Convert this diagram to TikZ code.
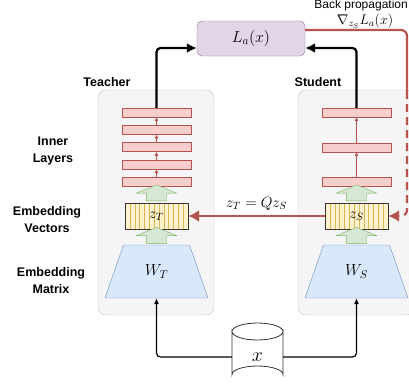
\RequirePackage{fix-cm}
\documentclass[tikz,border=0pt]{standalone}
\usepackage{fontspec}
\newfontfamily\labelfont{Liberation Sans}
\usepackage{amsmath}
\usepackage{tikz}
\usetikzlibrary{calc,positioning,arrows.meta,shapes.geometric,shapes.arrows}
\definecolor{BoxGray}{HTML}{F5F5F5}
\definecolor{LayerRed}{HTML}{F8CECC}
\definecolor{LayerEdge}{HTML}{B85450}
\definecolor{EmbGreen}{HTML}{D5E8D4}
\definecolor{EmbGreenEdge}{HTML}{82B366}
\definecolor{VecYellow}{HTML}{FFF2CC}
\definecolor{VecHatch}{HTML}{D6B656}
\definecolor{MatBlue}{HTML}{DAE8FC}
\definecolor{MatBlueEdge}{HTML}{6C8EBF}
\definecolor{LossPurple}{HTML}{E1D5E7}
\definecolor{LossEdge}{HTML}{9673A6}
\newcommand\sidefont{\labelfont\bfseries\fontsize{12.5}{17}\selectfont}
\tikzset{
  netbox/.style={draw=gray!50, fill=BoxGray, rounded corners=8pt, minimum width=116pt, minimum height=225pt},
  layer/.style={draw=LayerEdge, fill=LayerRed, minimum width=69pt, minimum height=9pt, inner sep=0pt},
  uparrow/.style={single arrow, draw=EmbGreenEdge, fill=EmbGreen, rotate=90, minimum height=16pt,
    inner xsep=0pt, inner ysep=10pt, single arrow head extend=10pt, single arrow tip angle=136},
  vecbox/.style={draw=black!80, fill=VecYellow, minimum width=63pt, minimum height=26pt, inner sep=0pt,
    font=\fontsize{15}{17}\selectfont,
    path picture={\foreach \k in {1,...,12}
      \draw[VecHatch, line width=0.4pt] ([xshift=\k*4.85pt]path picture bounding box.south west)
        -- ([xshift=\k*4.85pt]path picture bounding box.north west);}},
  matshape/.style={draw=MatBlueEdge, fill=MatBlue, line join=round},
  matlabel/.style={minimum width=103pt, minimum height=53pt, inner sep=0pt, font=\fontsize{16}{18}\selectfont},
  sidelabel/.style={align=center, font=\sidefont},
  flow/.style={-{Latex[length=10pt,width=10pt]}, line width=2.2pt, rounded corners=4pt},
  feed/.style={-{Latex[length=6pt,width=5pt]}, line width=1.2pt, rounded corners=4pt},
  inner/.style={-{Latex[length=4pt,width=4pt]}, draw=LayerEdge, line width=0.7pt},
  redline/.style={draw=LayerEdge, line width=2.2pt},
  drum/.style={draw=black!80, fill=white, line width=0.8pt},
}

\begin{document}
\begin{tikzpicture}[x=1pt,y=-1pt]
  \useasboundingbox (0,0) rectangle (409,389);
  % teacher and student frames
  \node[netbox] (teacher) at (156,202.5) {};
  \node[netbox] (student) at (356,202.5) {};
  \node[font=\sidefont] (tlabel) at (107,82) {Teacher};
  \node[font=\sidefont] (slabel) at (318,82) {Student};
  % row labels
  \node[sidelabel] (innerlab) at (53,151) {Inner\\Layers};
  \node[sidelabel] (veclab) at (47,220) {Embedding\\Vectors};
  \node[sidelabel] (matlab) at (51,281) {Embedding\\Matrix};
  % inner layers
  \foreach \i in {1,...,5}
    \node[layer] (t\i) at (156.5,{181.7-17.3*(\i-1)}) {};
  \foreach \i in {1,...,4} {
    \pgfmathtruncatemacro\j{\i+1}
    \draw[inner] (t\i.north) -- (t\j.south);
  }
  \foreach \i in {1,...,3}
    \node[layer] (s\i) at (356.5,{182-34.75*(\i-1)}) {};
  \draw[inner] (s1.north) -- (s2.south);
  \draw[inner] (s2.north) -- (s3.south);
  % embeddings
  \node[uparrow] (tup) at (156.5,195) {};
  \node[uparrow] (sup) at (356.5,195) {};
  \node[vecbox] (zt) at (156.5,216) {$z_T$};
  \node[vecbox] (zs) at (356.5,216) {$z_S$};
  \node[uparrow] (tlow) at (156.5,237.5) {};
  \node[uparrow] (slow) at (356.5,237.5) {};
  \foreach \cx in {156.5,356.5}
    \draw[matshape] (\cx-51.5,298) -- (\cx-33,245) -- (\cx+33,245) -- (\cx+51.5,298) -- cycle;
  \node[matlabel] (wt) at (156.5,271.5) {$W_T$};
  \node[matlabel] (ws) at (356.5,271.5) {$W_S$};
  % loss and data
  \node[draw=LossEdge, fill=LossPurple, rounded corners=5pt, minimum width=108pt, minimum height=35pt,
    font=\fontsize{16}{18}\selectfont] (loss) at (251,38.5) {$L_a(x)$};
  \draw[drum] (232,331.5) -- (232,374.5) arc[start angle=180, end angle=360, x radius=25.5, y radius=8.5]
    -- (283,331.5) arc[start angle=0, end angle=180, x radius=25.5, y radius=8.5] -- cycle;
  \draw[drum] (232,331.5) arc[start angle=180, end angle=360, x radius=25.5, y radius=8.5];
  \node[minimum width=51pt, inner sep=0pt, font=\fontsize{20}{22}\selectfont] (data) at (257.5,357) {$x$};
  % connectors
  \draw[flow] (t5.north) |- ([yshift=-9.5pt]loss.west);
  \draw[flow] (s3.north) |- ([yshift=-9.5pt]loss.east);
  \draw[feed] (data.west) -| (wt.south);
  \draw[feed] (data.east) -| (ws.south);
  \draw[redline, -{Latex[length=11pt,width=12pt]}] (zs.west) -- (zt.east)
    node[midway, above=1pt, font=\fontsize{15}{17}\selectfont, text=black] (map) {$z_T = Qz_S$};
  \coordinate (bp) at (407,91);
  \draw[redline, rounded corners=6pt] ([yshift=8.5pt]loss.east) -| (bp);
  \draw[redline, dash pattern=on 8pt off 5pt, rounded corners=6pt, -{Latex[length=11pt,width=12pt]}] (bp) |- (zs.east);
  \node[anchor=east, inner xsep=1pt, inner ysep=0pt, font=\labelfont\fontsize{12}{14}\selectfont] (bplabel) at (409,5) {Back propagation};
  \node[inner ysep=0pt, font=\fontsize{14}{16}\selectfont] (grad) at (365,21) {$\nabla_{z_S} L_a(x)$};
\end{tikzpicture}
\end{document}
